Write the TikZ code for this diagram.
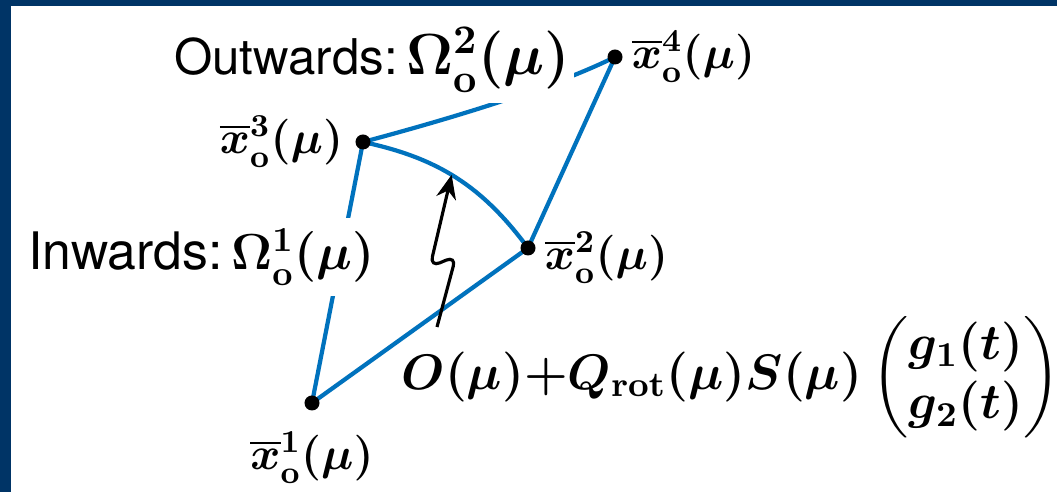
\RequirePackage{fix-cm}
\documentclass[tikz,border=0pt]{standalone}
\usepackage{amsmath}
\usepackage[no-math]{fontspec}
\newfontfamily\helv{TeX Gyre Heros}
\usetikzlibrary{positioning,arrows.meta,backgrounds}
\definecolor{framenavy}{RGB}{0,52,102}
\definecolor{edgeblue}{RGB}{0,114,189}
\newcommand{\ptname}[1]{$\overline{x}^{#1}_{\mathrm{o}}(\mu)$}
\tikzset{
  ptdot/.style={circle, fill=black, inner sep=0pt, minimum size=0.15cm},
  blueedge/.style={draw=edgeblue, line width=1.2pt},
  ptlabel/.style={inner sep=0pt, font=\fontsize{13}{15}\selectfont\boldmath},
  bdlabel/.style={fill=white, inner xsep=1pt, inner ysep=3pt, font=\helv\boldmath},
  fmla/.style={inner sep=0pt, font=\fontsize{14.2}{17}\selectfont\boldmath},
  zigarrow/.style={line width=0.9pt, rounded corners=3pt, -{Stealth[length=0.24cm, width=0.2cm]}},
}
\begin{document}
\begin{tikzpicture}[x=0.01cm, y=-0.01cm]
        \useasboundingbox (0,0) rectangle (1057,492);
        % Corner points (bottom to top)
        \node (x1) at (312,403) [ptdot] {};
        \node (x2) at (528,248) [ptdot] {};
        \node (x3) at (363,142) [ptdot] {};
        \node (x4) at (615,57) [ptdot] {};
        \node (l1) [ptlabel, below=0.2cm of x1] {\ptname{1}};
        \node (l2) [ptlabel, right=0.08cm of x2, yshift=-0.1cm] {\ptname{2}};
        \node (l3) [ptlabel, left=0.11cm of x3] {\ptname{3}};
        \node (l4) [ptlabel, right=0.08cm of x4] {\ptname{4}};
        % Boundary labels and parametrisation
        \node (outw) at (170,75) [bdlabel, anchor=base west] {\fontsize{14}{17}\selectfont Outwards:\,{\fontsize{16.5}{19}\selectfont$\Omega^{2}_{\mathrm{o}}(\mu)$}};
        \node (inw) at (24,270) [bdlabel, anchor=base west] {\fontsize{14.7}{17}\selectfont Inwards:\,{\fontsize{14.4}{17}\selectfont$\Omega^{1}_{\mathrm{o}}(\mu)$}};
        \node (fml) at (731,377) [fmla] {$O(\mu){+}Q_{\mathrm{rot}}(\mu)S(\mu)\begin{pmatrix} g_1(t)\\ g_2(t)\end{pmatrix}$};
        \coordinate (zfoot) at (437,327);
        % Edges
        \begin{pgfonlayer}{background}
          \fill[white] (0,0) rectangle (1057,492);
          \fill[framenavy] (0,0) rectangle (11,492);
          \fill[framenavy] (0,0) rectangle (1057,6);
          \draw[blueedge] (x1.center) -- (x2.center) -- (x4.center);
          \draw[blueedge] (x1.center) -- (x3.center);
          \draw[blueedge] (x3.center) .. controls (453,118) and (555,87) .. (x4.center);
          \draw[blueedge] (x3.center) .. controls (438,158) and (482,186) .. coordinate[pos=0.47] (hit) (x2.center);
        \end{pgfonlayer}
        \draw[zigarrow] (zfoot) -- (456,256) -- (430,267) -- (hit);
      \end{tikzpicture}
\end{document}
